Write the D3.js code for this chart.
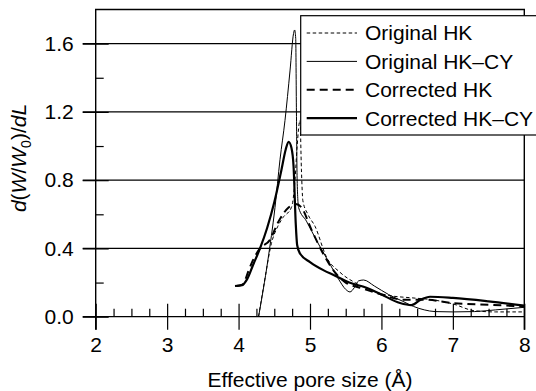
<!DOCTYPE html>
<html>
<head>
<meta charset="utf-8">
<script src="https://cdn.jsdelivr.net/npm/d3@7"></script>
<style>
  body { margin: 0; background: #fff; }
  text { font-family: "Liberation Sans", Arial, Helvetica, sans-serif; }
</style>
</head>
<body>
<svg id="chart" width="536" height="391"></svg>
<script>
// pore size (Å) / d(W/W0)/dL
const origHK = [
  [4.28, 0.0], [4.36, 0.2], [4.46, 0.43], [4.55, 0.53], [4.62, 0.58], [4.74, 0.64],
  [4.79, 0.8], [4.82, 1.0], [4.86, 1.15], [4.88, 0.86], [4.9, 0.68], [4.97, 0.6],
  [5.07, 0.53], [5.23, 0.35], [5.42, 0.26], [5.65, 0.195], [6.07, 0.127], [6.44, 0.11],
  [6.7, 0.1], [7.0, 0.075], [7.3, 0.035], [7.6, 0.028], [8.0, 0.028]
];
const origHKCY = [
  [4.28, 0.0], [4.41, 0.33], [4.51, 0.64], [4.58, 0.92], [4.65, 1.15], [4.72, 1.44],
  [4.77, 1.66], [4.785, 1.68], [4.8, 1.63], [4.81, 1.2], [4.82, 0.8], [4.84, 0.64],
  [4.95, 0.56], [5.1, 0.44], [5.25, 0.33], [5.4, 0.22], [5.5, 0.16], [5.56, 0.145],
  [5.62, 0.17], [5.68, 0.21], [5.75, 0.215], [5.9, 0.18], [6.1, 0.13], [6.3, 0.09],
  [6.45, 0.06], [6.6, 0.04], [6.75, 0.03], [7.0, 0.028], [7.3, 0.03], [7.6, 0.04], [8.0, 0.055]
];
const corrHK = [
  [3.97, 0.18], [4.06, 0.19], [4.14, 0.27], [4.2, 0.33], [4.3, 0.4], [4.44, 0.45],
  [4.55, 0.55], [4.7, 0.64], [4.8, 0.66], [4.88, 0.64], [5.02, 0.51], [5.21, 0.35],
  [5.35, 0.26], [5.5, 0.2], [5.7, 0.17], [6.0, 0.13], [6.3, 0.1], [6.6, 0.1],
  [7.0, 0.08], [7.5, 0.07], [8.0, 0.06]
];
const corrHKCY = [
  [3.95, 0.18], [4.05, 0.185], [4.12, 0.22], [4.2, 0.3], [4.3, 0.4], [4.4, 0.52],
  [4.5, 0.67], [4.6, 0.86], [4.66, 0.98], [4.7, 1.025], [4.74, 0.99], [4.77, 0.88],
  [4.8, 0.55], [4.82, 0.42], [4.86, 0.37], [5.0, 0.32], [5.2, 0.27], [5.33, 0.245],
  [5.55, 0.2], [5.79, 0.17], [6.0, 0.13], [6.26, 0.08], [6.42, 0.068], [6.55, 0.1],
  [6.68, 0.117], [7.0, 0.11], [7.5, 0.09], [8.0, 0.065]
];
const seriesNames = ["Original HK", "Original HK\u2013CY", "Corrected HK", "Corrected HK\u2013CY"];
const xTicks = [2, 3, 4, 5, 6, 7, 8];
const yTicks = [0.0, 0.4, 0.8, 1.2, 1.6];

const svg = d3.select("#chart");
const mLeft = 95.7, mRight = 524.3, mTop = 9.5, mBottom = 316.7;
const fs = 21;
const x = d3.scaleLinear().domain([2, 8]).range([mLeft, mRight]);
const y = d3.scaleLinear().domain([0, 1.8]).range([mBottom, mTop]);

// gridlines
svg.append("g").selectAll("line").data(yTicks).join("line")
  .attr("x1", mLeft - 13).attr("x2", mRight)
  .attr("y1", d => y(d)).attr("y2", d => y(d))
  .attr("stroke", "#000").attr("stroke-width", 1.2);

// minor ticks
const minorX = d3.range(2, 8.001, 0.25).filter(v => Math.abs(v - Math.round(v)) > 1e-6);
const minorY = [0.2, 0.6, 1.0, 1.4];
svg.append("g").attr("transform", `translate(0,${mBottom})`)
  .call(d3.axisTop(x).tickValues(minorX).tickSize(8).tickFormat(""))
  .call(g => g.select(".domain").remove());
svg.append("g").attr("transform", `translate(${mLeft},0)`)
  .call(d3.axisRight(y).tickValues(minorY).tickSize(8).tickFormat(""))
  .call(g => g.select(".domain").remove());

// major ticks crossing axis
svg.append("g").attr("transform", `translate(0,${mBottom})`)
  .call(d3.axisTop(x).tickValues(xTicks).tickSize(13).tickFormat(""))
  .call(g => g.select(".domain").remove());
svg.append("g").attr("transform", `translate(${mLeft},0)`)
  .call(d3.axisRight(y).tickValues(yTicks).tickSize(13).tickFormat(""))
  .call(g => g.select(".domain").remove());

const xAxis = svg.append("g").attr("transform", `translate(0,${mBottom})`)
  .call(d3.axisBottom(x).tickValues(xTicks).tickSize(13).tickPadding(7).tickFormat(d3.format("d")));
xAxis.select(".domain").remove();
const yAxis = svg.append("g").attr("transform", `translate(${mLeft},0)`)
  .call(d3.axisLeft(y).tickValues(yTicks).tickSize(13).tickPadding(9).tickFormat(d3.format(".1f")));
yAxis.select(".domain").remove();
svg.selectAll(".tick text").attr("font-size", fs).attr("fill", "#000")
  .style("font-family", "'Liberation Sans', Arial, sans-serif");
svg.selectAll(".tick line").attr("stroke", "#000").attr("stroke-width", 1.2);

// frame
svg.append("path")
  .attr("d", `M${mLeft},${mBottom + 13}V${mTop}H${mRight}V${mBottom + 13}`)
  .attr("fill", "none").attr("stroke", "#000").attr("stroke-width", 1.4);

// curves
const line = d3.line().x(d => x(d[0])).y(d => y(d[1])).curve(d3.curveMonotoneX);
const styles = [
  { data: origHK, w: 1, dash: "3.5,2.5" },
  { data: origHKCY, w: 1, dash: null },
  { data: corrHK, w: 2, dash: "8,5" },
  { data: corrHKCY, w: 2.2, dash: null }
];
svg.append("g").selectAll("path").data(styles).join("path")
  .attr("d", d => line(d.data))
  .attr("fill", "none").attr("stroke", "#000")
  .attr("stroke-width", d => d.w)
  .attr("stroke-dasharray", d => d.dash);

// legend
const leg = svg.append("g");
leg.append("rect").attr("x", 300.7).attr("y", 15.7).attr("width", 260).attr("height", 119.3)
  .attr("fill", "#fff").attr("stroke", "#000").attr("stroke-width", 1.2);
const rows = leg.selectAll("g.row").data(styles).join("g").attr("class", "row")
  .attr("transform", (d, i) => `translate(0,${33 + i * 28.4})`);
rows.append("line").attr("x1", 306.7).attr("x2", 357).attr("y1", 0).attr("y2", 0)
  .attr("stroke", "#000").attr("stroke-width", d => d.w).attr("stroke-dasharray", d => d.dash);
rows.append("text").attr("x", 365).attr("y", 0).attr("dy", "0.35em")
  .attr("font-size", fs).text((d, i) => seriesNames[i]);

// axis titles
svg.append("text").attr("x", 310).attr("y", 387).attr("text-anchor", "middle")
  .attr("font-size", fs).text("Effective pore size (\u00c5)");
const yt = svg.append("text").attr("transform", "translate(26,158) rotate(-90)")
  .attr("text-anchor", "middle").attr("font-size", fs);
yt.append("tspan").attr("font-style", "italic").text("d");
yt.append("tspan").text("(");
yt.append("tspan").attr("font-style", "italic").text("W");
yt.append("tspan").text("/");
yt.append("tspan").attr("font-style", "italic").text("W");
yt.append("tspan").attr("font-size", 14).attr("dy", 5).text("0");
yt.append("tspan").attr("dy", -5).text(")/");
yt.append("tspan").attr("font-style", "italic").text("dL");
</script>
</body>
</html>
